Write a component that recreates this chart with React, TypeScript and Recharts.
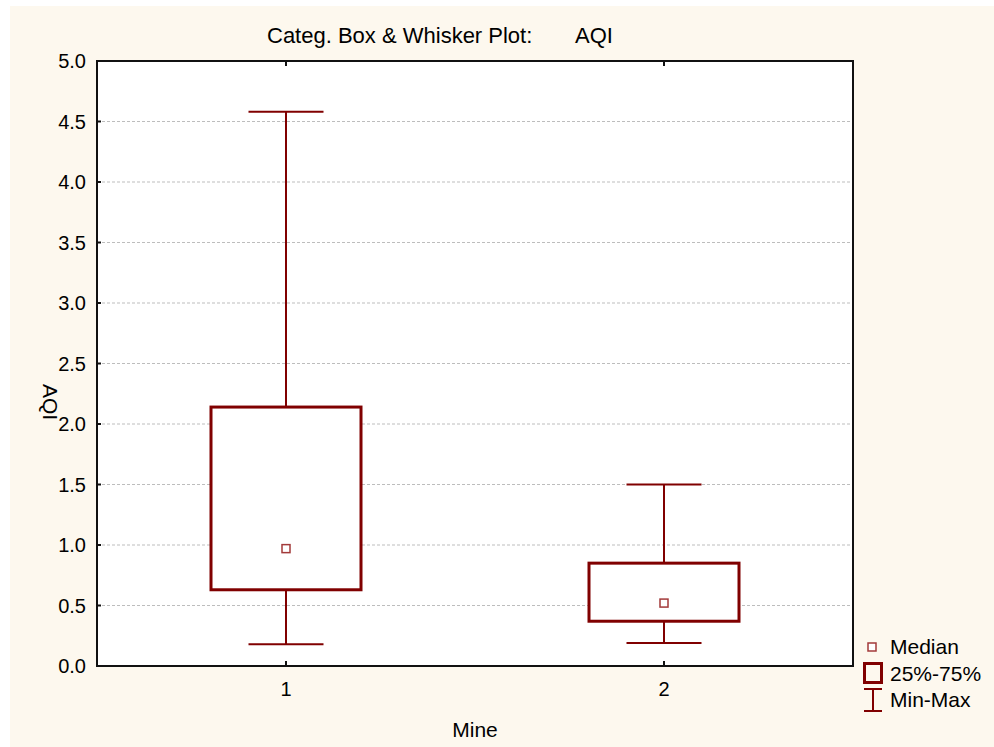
import { ComposedChart, Bar, XAxis, YAxis, CartesianGrid, Legend, Customized, ReferenceArea } from "recharts";

// box & whisker stats per mine
const mines = ["1", "2"];
const minValues = [0.18, 0.19];
const q1Values = [0.63, 0.37];
const medianValues = [0.97, 0.52];
const q3Values = [2.14, 0.85];
const maxValues = [4.58, 1.5];
const yTicks = [0, 0.5, 1, 1.5, 2, 2.5, 3, 3.5, 4, 4.5, 5];

const data = mines.map((mine, i) => ({
  mine,
  range: [minValues[i], maxValues[i]],
  min: minValues[i],
  q1: q1Values[i],
  median: medianValues[i],
  q3: q3Values[i],
  max: maxValues[i],
}));

const MAROON = "#800000";
const MEDIAN = "#a33a3a";
const BG = "#fdf8ee";
const FONT = "'Liberation Sans', Arial, sans-serif";

const BoxShape = (props: any) => {
  const { x, y, width, height, payload } = props;
  const { min, q1, median, q3, max } = payload;
  // linear position inside the min..max bar that recharts already scaled
  const toY = (v: number) => y + ((max - v) / (max - min)) * height;
  const cx = x + width / 2;
  const cap = width / 4;
  return (
    <g>
      <line x1={cx} x2={cx} y1={toY(max)} y2={toY(q3)} stroke={MAROON} strokeWidth={2} />
      <line x1={cx} x2={cx} y1={toY(q1)} y2={toY(min)} stroke={MAROON} strokeWidth={2} />
      <line x1={cx - cap} x2={cx + cap} y1={toY(max)} y2={toY(max)} stroke={MAROON} strokeWidth={2} />
      <line x1={cx - cap} x2={cx + cap} y1={toY(min)} y2={toY(min)} stroke={MAROON} strokeWidth={2} />
      <rect
        x={x}
        y={toY(q3)}
        width={width}
        height={toY(q1) - toY(q3)}
        fill="#ffffff"
        stroke={MAROON}
        strokeWidth={3}
      />
      <rect x={cx - 4} y={toY(median) - 4} width={8} height={8} fill="#ffffff" stroke={MEDIAN} strokeWidth={1.5} />
    </g>
  );
};

const Labels = () => (
  <g fontFamily={FONT} fill="#000">
    <text x={257} y={37} fontSize={22}>
      Categ. Box &amp; Whisker Plot:
    </text>
    <text x={565} y={37} fontSize={22}>
      AQI
    </text>
    <text x={465} y={731} fontSize={21} textAnchor="middle">
      Mine
    </text>
    <text x={33} y={396} fontSize={21} textAnchor="middle" transform="rotate(90 33 396)">
      AQI
    </text>
  </g>
);

const renderLegend = () => (
  <div style={{ fontFamily: FONT, fontSize: 21, color: "#000", lineHeight: "26.5px" }}>
    <div style={{ display: "flex", alignItems: "center" }}>
      <svg width={27} height={26}>
        <rect x={5} y={9} width={8} height={8} fill="#fff" stroke={MEDIAN} strokeWidth={1.5} />
      </svg>
      <span>Median</span>
    </div>
    <div style={{ display: "flex", alignItems: "center" }}>
      <svg width={27} height={26}>
        <rect x={1.5} y={2.5} width={17} height={19} fill="none" stroke={MAROON} strokeWidth={3} />
      </svg>
      <span>25%-75%</span>
    </div>
    <div style={{ display: "flex", alignItems: "center" }}>
      <svg width={27} height={26}>
        <line x1={1} x2={19} y1={2} y2={2} stroke={MAROON} strokeWidth={2} />
        <line x1={10} x2={10} y1={2} y2={24} stroke={MAROON} strokeWidth={2} />
        <line x1={1} x2={19} y1={24} y2={24} stroke={MAROON} strokeWidth={2} />
      </svg>
      <span>Min-Max</span>
    </div>
  </div>
);

const tickStyle = { fill: "#000", fontSize: 20, fontFamily: FONT };
const axisStyle = { stroke: "#111", strokeWidth: 2 };
const noLabel = () => <g />;

export default function App() {
  return (
    <div style={{ position: "absolute", left: 0, top: 0, width: 994, height: 747, background: "#fff" }}>
      <div style={{ position: "absolute", left: 10, top: 6, width: 984, height: 741, background: BG }}>
        <ComposedChart
          width={984}
          height={741}
          data={data}
          margin={{ top: 54, right: 140, bottom: 41, left: 0 }}
        >
          <CartesianGrid
            vertical={false}
            fill="#ffffff"
            stroke="#bdbdbd"
            strokeDasharray="3 2"
          />
          <ReferenceArea y1={0} y2={5} fill="none" stroke="#111" strokeWidth={2} fillOpacity={0} />
          <XAxis
            dataKey="mine"
            height={40}
            axisLine={axisStyle}
            tickLine={axisStyle}
            tickSize={-5}
            tickMargin={21}
            tick={tickStyle}
          />
          <XAxis
            xAxisId="top"
            dataKey="mine"
            orientation="top"
            height={1}
            axisLine={axisStyle}
            tickLine={axisStyle}
            tickSize={-5}
            tick={noLabel}
          />
          <YAxis
            width={87}
            domain={[0, 5]}
            ticks={yTicks}
            allowDataOverflow
            axisLine={axisStyle}
            tickLine={axisStyle}
            tickSize={-4}
            tickMargin={15}
            tick={tickStyle}
            tickFormatter={(v: number) => v.toFixed(1)}
          />
          <YAxis
            yAxisId="r"
            orientation="right"
            width={1}
            domain={[0, 5]}
            ticks={yTicks}
            axisLine={axisStyle}
            tickLine={axisStyle}
            tickSize={-4}
            tick={noLabel}
          />
          <Bar dataKey="range" barSize={150} shape={BoxShape} isAnimationActive={false} />
          <Customized component={Labels} />
          <Legend
            layout="horizontal"
            align="center"
            verticalAlign="middle"
            content={renderLegend}
            wrapperStyle={{ left: 853, top: 628, width: 131, height: 80 }}
          />
        </ComposedChart>
      </div>
    </div>
  );
}
